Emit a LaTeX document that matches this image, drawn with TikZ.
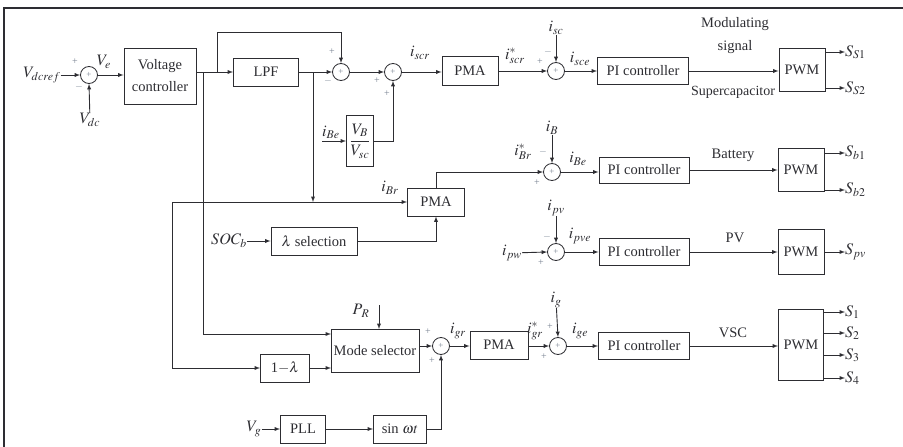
\documentclass[tikz,border=0pt]{standalone}
\usepackage{amsmath}
\usepackage{mathptmx}
\usepackage{fontspec}
\setmainfont{Liberation Serif}
\definecolor{ink}{RGB}{45,45,50}
\definecolor{sgncol}{RGB}{120,130,145}
\tikzset{
  blk/.style={draw=ink,line width=0.9pt,inner sep=1pt,align=center,text=ink},
  sumnode/.style={draw=ink,circle,line width=0.8pt,minimum size=17pt,inner sep=0pt,
    font=\small,text=sgncol},
  sig/.style={->,>=latex,draw=ink,line width=0.9pt},
  lbl/.style={inner sep=0pt,text=ink,font=\fontsize{16}{18}\selectfont},
  sgn/.style={inner sep=0pt,font=\normalsize,text=sgncol}
}
\begin{document}
\begin{tikzpicture}[x=1pt,y=-1pt,font=\fontsize{14.5}{17}\selectfont]
  \useasboundingbox (0,0) rectangle (903,447);
  \draw[ink,line width=1.6pt] (4,447) -- (4,8) -- (903,8);

  % blocks
  \node[blk,minimum width=72pt,minimum height=56pt,font=\fontsize{14.5}{22}\selectfont] (volt) at (160,76) {Voltage\\controller};
  \node[blk,minimum width=65pt,minimum height=28pt] (lpf) at (266,72) {LPF};
  \node[blk,minimum width=27pt,minimum height=51pt,font=\fontsize{16}{18}\selectfont] (ratio) at (360,141) {$\dfrac{V_B}{V_{sc}}$};
  \node[blk,minimum width=56pt,minimum height=29pt] (pmaA) at (470,71) {PMA};
  \node[blk,minimum width=91pt,minimum height=27pt] (piA) at (643,71) {PI controller};
  \node[blk,minimum width=46pt,minimum height=43pt] (pwmA) at (802,70) {PWM};
  \node[blk,minimum width=57pt,minimum height=28pt] (pmaB) at (436,202) {PMA};
  \node[blk,minimum width=86pt,minimum height=28pt] (lam) at (314,241) {$\lambda$ selection};
  \node[blk,minimum width=90pt,minimum height=26pt] (piB) at (644,170) {PI controller};
  \node[blk,minimum width=46pt,minimum height=43pt] (pwmB) at (801,170) {PWM};
  \node[blk,minimum width=90pt,minimum height=27pt] (piC) at (644,252) {PI controller};
  \node[blk,minimum width=46pt,minimum height=45pt] (pwmC) at (801,252) {PWM};
  \node[blk,minimum width=88pt,minimum height=43pt] (mode) at (375,351) {Mode selector};
  \node[blk,minimum width=49pt,minimum height=28pt] (oneml) at (285,368) {1$-\lambda$};
  \node[blk,minimum width=45pt,minimum height=28pt] (pll) at (303,429) {PLL};
  \node[blk,minimum width=53pt,minimum height=28pt] (sinw) at (400,429) {sin $\omega t$};
  \node[blk,minimum width=58pt,minimum height=28pt] (pmaC) at (499,345) {PMA};
  \node[blk,minimum width=91pt,minimum height=27pt] (piD) at (644,346) {PI controller};
  \node[blk,minimum width=45pt,minimum height=71pt] (pwmD) at (801,345) {PWM};

  % summing junctions
  \node[sumnode] (s1) at (89,75) {+};
  \node[sumnode] (s2) at (341,72) {+};
  \node[sumnode] (s3) at (393,72) {+};
  \node[sumnode] (s4) at (556,71) {+};
  \node[sumnode] (s5) at (552,172) {+};
  \node[sumnode] (s6) at (556,252) {+};
  \node[sumnode] (s7) at (441,346) {+};
  \node[sumnode] (s8) at (558,346) {+};

  % signs
  \node[sgn] at (75,62) {+};  \node[sgn] at (79,87) {$-$};
  \node[sgn] at (332,52) {+}; \node[sgn] at (328,81) {$-$};
  \node[sgn] at (377,81) {+}; \node[sgn] at (387,94) {+};
  \node[sgn] at (540,62) {+}; \node[sgn] at (548,52) {$-$};
  \node[sgn] at (543,152) {$-$}; \node[sgn] at (537,183) {+};
  \node[sgn] at (547,237) {$-$}; \node[sgn] at (541,263) {+};
  \node[sgn] at (428,332) {+}; \node[sgn] at (432,361) {+};
  \node[sgn] at (550,327) {+}; \node[sgn] at (544,357) {+};

  % signal names
  \node[lbl] (vref) at (42,75) {$V_{dcref}$};
  \node[lbl] (vdc) at (90,120) {$V_{dc}$};
  \node[lbl] at (104,62) {$V_e$};
  \node[lbl] at (420,53) {$i_{scr}$};
  \node[lbl] at (515,56) {$i^*_{scr}$};
  \node[lbl] (isc) at (556,28) {$i_{sc}$};
  \node[lbl] at (580,59) {$i_{sce}$};
  \node[inner sep=0pt,text=ink,align=center,font=\fontsize{14.5}{23}\selectfont] at (735,36) {Modulating\\signal};
  \node[inner sep=0pt,text=ink,font=\fontsize{14}{16}\selectfont] at (733,92) {Supercapacitor};
  \node[lbl] at (390,188) {$i_{Br}$};
  \node[lbl] at (523,152) {$i^*_{Br}$};
  \node[lbl] (ib) at (552,128) {$i_B$};
  \node[lbl] at (578,159) {$i_{Be}$};
  \node[inner sep=0pt,text=ink] at (733,155) {Battery};
  \node[lbl] (soc) at (229,241) {$SOC_b$};
  \node[lbl] (ipw) at (512,253) {$i_{pw}$};
  \node[lbl] (ipv) at (556,208) {$i_{pv}$};
  \node[lbl] at (580,236) {$i_{pve}$};
  \node[inner sep=0pt,text=ink] at (735,238) {PV};
  \node[lbl] (pr) at (361,311) {$P_{\,R}$};
  \node[lbl] at (458,331) {$i_{gr}$};
  \node[lbl] at (535,331) {$i^*_{gr}$};
  \node[lbl] (ig) at (556,300) {$i_g$};
  \node[lbl] at (580,331) {$i_{ge}$};
  \node[inner sep=0pt,text=ink] at (733,333) {VSC};
  \node[lbl] (vg) at (254,429) {$V_g$};
  \node[lbl,anchor=west] (sS1) at (845,52) {$S_{S1}$};
  \node[lbl,anchor=west] (sS2) at (845,88) {$S_{S2}$};
  \node[lbl,anchor=west] (sb1) at (845,153) {$S_{b1}$};
  \node[lbl,anchor=west] (sb2) at (845,190) {$S_{b2}$};
  \node[lbl,anchor=west] (spv) at (845,252) {$S_{pv}$};
  \node[lbl,anchor=west] (sq1) at (845,312) {$S_1$};
  \node[lbl,anchor=west] (sq2) at (845,333) {$S_2$};
  \node[lbl,anchor=west] (sq3) at (845,355) {$S_3$};
  \node[lbl,anchor=west] (sq4) at (845,378) {$S_4$};

  % junction points
  \coordinate (jB) at (203,72);
  \coordinate (jA) at (217,72);
  \coordinate (jC) at (313,72);
  \coordinate (jD) at (313,202);
  \coordinate (jE) at (172,202);
  \coordinate (ibeS) at (322,141);
  \coordinate (mIn1) at (331,334);
  \coordinate (mIn2) at (331,368);
  \coordinate (prS) at (379,305);

  % supercapacitor loop
  \draw[sig] (vref) -- (s1.west);
  \draw[sig] (vdc) -- (s1.south);
  \draw[sig] (s1.east) -- (s1.east -| volt.west);
  \draw[sig] (volt.east |- lpf.west) -- (lpf.west);
  \draw[sig] (jA) -- ++(0,-40) -| (s2.north);
  \draw[sig] (lpf.east) -- (s2.west);
  \draw[sig] (s2.east) -- (s3.west);
  \draw[sig] (ibeS) -- (ibeS -| ratio.west);
  \node[lbl,anchor=south west] at ([yshift=2pt]ibeS) {$i_{Be}$};
  \draw[sig] (ratio.east) -| (s3.south);
  \draw[sig] (s3.east) -- (s3.east -| pmaA.west);
  \draw[sig] (pmaA.east |- s4) -- (s4.west);
  \draw[sig] (isc) -- (s4.north);
  \draw[sig] (s4.east) -- (s4.east -| piA.west);
  \draw[sig] (piA.east) -- (piA.east -| pwmA.west);
  \draw[sig] (pwmA.east |- sS1) -- (sS1.west);
  \draw[sig] (pwmA.east |- sS2) -- (sS2.west);

  % battery loop
  \draw[sig] (jC) -- (jD);
  \draw[sig] (jE) -- (pmaB.west);
  \draw[sig] (soc) -- (lam.west);
  \draw[sig] (lam.east) -| (pmaB.south);
  \draw[sig] (pmaB.north) |- (s5.west);
  \draw[sig] (ib) -- (s5.north);
  \draw[sig] (s5.east) -- (s5.east -| piB.west);
  \draw[sig] (piB.east) -- (piB.east -| pwmB.west);
  \draw[sig] (pwmB.east |- sb1) -- (sb1.west);
  \draw[sig] (pwmB.east |- sb2) -- (sb2.west);

  % PV loop
  \draw[sig] (ipw) -- (s6.west);
  \draw[sig] (ipv) -- (s6.north);
  \draw[sig] (s6.east) -- (s6.east -| piC.west);
  \draw[sig] (piC.east) -- (piC.east -| pwmC.west);
  \draw[sig] (pwmC.east |- spv) -- (spv.west);

  % grid loop
  \draw[sig] (jB) |- (mIn1);
  \draw[sig] (jE) |- (oneml.west);
  \draw[sig] (oneml.east) -- (mIn2);
  \draw[sig] (prS) -- (prS |- mode.north);
  \draw[sig] (mode.east |- s7) -- (s7.west);
  \draw[sig] (vg) -- (pll.west);
  \draw[sig] (pll.east) -- (sinw.west);
  \draw[sig] (sinw.east) -| (s7.south);
  \draw[sig] (s7.east) -- (s7.east -| pmaC.west);
  \draw[sig] (pmaC.east |- s8) -- (s8.west);
  \draw[sig] (ig) -- (s8.north);
  \draw[sig] (s8.east) -- (s8.east -| piD.west);
  \draw[sig] (piD.east |- s8) -- (s8 -| pwmD.west);
  \foreach \o in {sq1,sq2,sq3,sq4}
    \draw[sig] (pwmD.east |- \o) -- (\o.west);
\end{tikzpicture}
\end{document}
